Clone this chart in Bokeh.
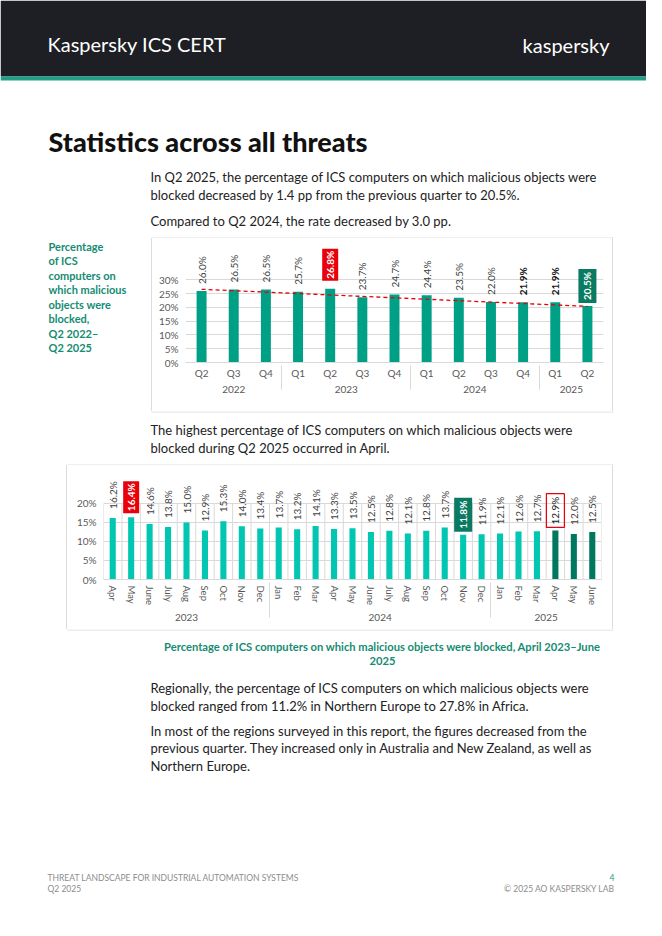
import math
from bokeh.plotting import figure
from bokeh.models import (Range1d, FactorRange, FixedTicker, PrintfTickFormatter,
                          ColumnDataSource, Spacer, Div)
from bokeh.layouts import column, row
from bokeh.core.properties import value
from bokeh.embed import file_html
from bokeh.resources import INLINE

FONT = "Lato"

# ---------------- data: chart 1 (quarterly) ----------------
q_years = ["2022", "2022", "2022", "2023", "2023", "2023", "2023",
           "2024", "2024", "2024", "2024", "2025", "2025"]
q_quarters = ["Q2", "Q3", "Q4", "Q1", "Q2", "Q3", "Q4",
              "Q1", "Q2", "Q3", "Q4", "Q1", "Q2"]
q_values = [26.0, 26.5, 26.5, 25.7, 26.8, 23.7, 24.7, 24.4, 23.5, 22.0, 21.9, 21.9, 20.5]
q_trend = [26.6, 20.4]          # dashed trend line, read at first and last quarter
q_y_ticks = [0, 5, 10, 15, 20, 25, 30]

# ---------------- data: chart 2 (monthly) ----------------
m_years = ["2023"] * 9 + ["2024"] * 12 + ["2025"] * 6
m_months = ["Apr", "May", "June", "July", "Aug", "Sep", "Oct", "Nov", "Dec",
            "Jan", "Feb", "Mar", "Apr", "May", "June", "July", "Aug", "Sep", "Oct", "Nov", "Dec",
            "Jan", "Feb", "Mar", "Apr", "May", "June"]
m_values = [16.2, 16.4, 14.6, 13.8, 15.0, 12.9, 15.3, 14.0, 13.4,
            13.7, 13.2, 14.1, 13.3, 13.5, 12.5, 12.8, 12.1, 12.8, 13.7, 11.8, 11.9,
            12.1, 12.6, 12.7, 12.9, 12.0, 12.5]
m_y_ticks = [0, 5, 10, 15, 20]

# highlighted labels
q_highlight = {("2023", "Q2"): "red", ("2025", "Q2"): "green",
               ("2024", "Q4"): "bold", ("2025", "Q1"): "bold"}
m_highlight = {("2023", "May"): "red", ("2024", "Nov"): "green", ("2025", "Apr"): "outline"}
m_dark = [("2025", "Apr"), ("2025", "May"), ("2025", "June")]

# ---------------- colours ----------------
DARK_HDR = "#1D1F24"
KGREEN = "#1EA186"
BAR1 = "#00A086"
BAR2 = "#00C6B2"
BAR2_DARK = "#00775F"
RED = "#E8000B"
BOXGREEN = "#0A7A63"
GRID = "#D9D9D9"
BOXLINE = "#DCDCDC"
AXTXT = "#595959"
TXT = "#222222"
CAPGREEN = "#158C73"


def page_fig(y0, y1, x0=0, x1=646, **kw):
    p = figure(width=x1 - x0, height=y1 - y0, x_range=Range1d(x0, x1), y_range=Range1d(y1, y0),
               x_axis_type=None, y_axis_type=None, toolbar_location=None,
               output_backend="svg", min_border=0, outline_line_color=None, **kw)
    return p


def put_text(p, x, y, lines, dy, size, color, style="normal", align="left", font=FONT):
    p.text(x=[x] * len(lines), y=[y + i * dy for i in range(len(lines))], text=lines,
           text_font=value(font), text_font_size=size, text_color=color,
           text_font_style=style, text_align=align, text_baseline="middle")


def hline(p, x0, x1, y):
    p.segment(x0=[x0], x1=[x1], y0=[y], y1=[y], color=BOXLINE, line_width=1)


def vline(h):
    return Div(text='<div style="width:1px;height:%dpx;background:%s"></div>' % (h, BOXLINE),
               width=1, height=h, margin=0)


# ---------------- top section ----------------
top = page_fig(0, 238)
top.quad(left=[0], right=[646], top=[0], bottom=[76], color=DARK_HDR, line_color=None)
top.quad(left=[0], right=[646], top=[76], bottom=[80], color=KGREEN, line_color=None)
put_text(top, 47, 43, ["Kaspersky ICS CERT"], 0, "20px", "white")
put_text(top, 609, 44, ["kaspersky"], 0, "20px", "white", align="right")
put_text(top, 48, 141, ["Statistics across all threats"], 0, "27px", "#111111", style="bold",
         font="Lato Black, Lato")
put_text(top, 150, 176, ["In Q2 2025, the percentage of ICS computers on which malicious objects were",
                         "blocked decreased by 1.4 pp from the previous quarter to 20.5%."], 18, "13px", TXT)
put_text(top, 150, 220, ["Compared to Q2 2024, the rate decreased by 3.0 pp."], 0, "13px", TXT)
hline(top, 151, 613, 237.5)

# ---------------- left caption of chart 1 (frame aligned with chart 1 frame) ----------------
cap = figure(width=151, height=173, x_range=Range1d(0, 151), y_range=Range1d(362, 242),
             x_axis_type=None, y_axis_type=None, toolbar_location=None, output_backend="svg",
             min_border_left=0, min_border_right=0, min_border_top=4, min_border_bottom=49,
             outline_line_color=None)
put_text(cap, 48, 246, ["Percentage", "of ICS", "computers on", "which malicious",
                        "objects were", "blocked,", "Q2 2022\u2013", "Q2 2025"],
         14.45, "11px", CAPGREEN, style="bold")


def style_axes(p, yticks):
    p.yaxis.ticker = FixedTicker(ticks=yticks)
    p.yaxis.formatter = PrintfTickFormatter(format="%d%%")
    p.yaxis.axis_line_color = None
    p.yaxis.major_tick_line_color = None
    p.yaxis.minor_tick_line_color = None
    p.yaxis.major_tick_out = 0
    p.yaxis.major_tick_in = 0
    p.yaxis.major_label_standoff = 7
    p.yaxis.major_label_text_font = FONT
    p.yaxis.major_label_text_font_size = "10px"
    p.yaxis.major_label_text_color = AXTXT
    p.ygrid.ticker = FixedTicker(ticks=yticks)
    p.ygrid.grid_line_color = GRID
    p.xgrid.visible = False
    p.xaxis.axis_line_color = GRID
    p.xaxis.major_tick_line_color = None
    p.xaxis.major_tick_out = 0
    p.xaxis.major_tick_in = 0
    p.xaxis.major_label_text_font = FONT
    p.xaxis.major_label_text_color = AXTXT
    p.xaxis.group_text_font = FONT
    p.xaxis.group_text_font_style = "normal"
    p.xaxis.group_text_color = AXTXT
    p.xaxis.group_text_font_size = "10px"
    p.xaxis.separator_line_color = GRID
    p.xaxis.separator_line_width = 1


LABEL_CFG = {
    "normal": dict(text_color="#404040", text_font_style="normal"),
    "bold": dict(text_color="#111111", text_font_style="bold"),
    "red": dict(text_color="white", text_font_style="bold", background_fill_color=RED, padding=2),
    "green": dict(text_color="white", text_font_style="bold", background_fill_color=BOXGREEN, padding=3),
    "outline": dict(text_color="#111111", text_font_style="normal", border_line_color=RED,
                    border_line_width=1.2, padding=3),
}


def add_labels(p, factors, values, highlight, offsets, size):
    groups = {k: [] for k in LABEL_CFG}
    for f, v in zip(factors, values):
        groups[highlight.get(f, "normal")].append((f, v))
    for k, items in groups.items():
        if not items:
            continue
        src = ColumnDataSource(dict(x=[i[0] for i in items], y=[i[1] for i in items],
                                    t=["%.1f%%" % i[1] for i in items]))
        p.text(x="x", y="y", text="t", source=src, angle=math.pi / 2, text_align="left",
               text_baseline="middle", y_offset=-offsets.get(k, offsets["normal"]),
               text_font=value(FONT), text_font_size=size, **LABEL_CFG[k])


# ---------------- chart 1 ----------------
q_factors = list(zip(q_years, q_quarters))
c1 = figure(width=460, height=173,
            x_range=FactorRange(*q_factors, range_padding=0, group_padding=0, factor_padding=0),
            y_range=Range1d(0, 43.6), toolbar_location=None, output_backend="svg",
            min_border_left=33, min_border_right=9, min_border_top=4, min_border_bottom=49,
            outline_line_color=None)
style_axes(c1, q_y_ticks)
c1.xaxis.major_label_text_font_size = "10px"
c1.xaxis.major_label_standoff = 4
c1.vbar(x=q_factors, top=q_values, width=0.31, color=BAR1, line_color=None)
c1.line(x=[q_factors[0], q_factors[-1]], y=q_trend, color=RED, line_width=1.3, line_dash="4 3")
add_labels(c1, q_factors, q_values, q_highlight, {"normal": 7, "red": 8, "green": 3}, "10px")

# ---------------- middle text ----------------
mid = page_fig(411, 465)
put_text(mid, 150, 429, ["The highest percentage of ICS computers on which malicious objects were",
                         "blocked during Q2 2025 occurred in April."], 18.4, "13px", TXT)
hline(mid, 151, 613, 411.5)
hline(mid, 67, 613, 464.5)

# ---------------- chart 2 ----------------
m_factors = list(zip(m_years, m_months))
c2 = figure(width=545, height=164,
            x_range=FactorRange(*m_factors, range_padding=0, group_padding=0, factor_padding=0),
            y_range=Range1d(0, 29.2), toolbar_location=None, output_backend="svg",
            min_border_left=36, min_border_right=11, min_border_top=3, min_border_bottom=50,
            outline_line_color=None)
style_axes(c2, m_y_ticks)
c2.xaxis.major_label_orientation = "vertical"
c2.xaxis.major_label_text_font_size = "9.5px"
c2.xaxis.major_label_standoff = 6
# vertical category separators inside the plot
bx = [f + (-0.5,) for f in m_factors] + [m_factors[-1] + (0.5,)]
c2.segment(x0=bx, x1=bx, y0=[0] * len(bx), y1=[m_y_ticks[-1]] * len(bx), color=GRID, line_width=1)
m_colors = [BAR2_DARK if f in m_dark else BAR2 for f in m_factors]
c2.vbar(x=m_factors, top=m_values, width=0.33, color=m_colors, line_color=None)
add_labels(c2, m_factors, m_values, m_highlight, {"normal": 9, "red": 4, "green": 3, "outline": 3}, "10px")

# ---------------- bottom section ----------------
bot = page_fig(629, 920)
hline(bot, 67, 613, 629.5)
put_text(bot, 382, 645.5, ["Percentage of ICS computers on which malicious objects were blocked, April 2023\u2013June",
                           "2025"], 14.5, "11.2px", CAPGREEN, style="bold", align="center")
put_text(bot, 150, 687, ["Regionally, the percentage of ICS computers on which malicious objects were",
                         "blocked ranged from 11.2% in Northern Europe to 27.8% in Africa."], 18.3, "13px", TXT)
put_text(bot, 150, 730, ["In most of the regions surveyed in this report, the figures decreased from the",
                         "previous quarter. They increased only in Australia and New Zealand, as well as",
                         "Northern Europe."], 17.8, "13px", TXT)
put_text(bot, 47, 877, ["THREAT LANDSCAPE FOR INDUSTRIAL AUTOMATION SYSTEMS", "Q2 2025"], 11.5, "8.5px", "#8C8C8C")
put_text(bot, 614, 877, ["4"], 0, "8.5px", KGREEN, align="right")
put_text(bot, 614, 888.5, ["\u00a9 2025 AO KASPERSKY LAB"], 0, "8.5px", "#8C8C8C", align="right")

layout = column(top,
                row(cap, vline(173), c1, vline(173), Spacer(width=33, height=173)),
                mid,
                row(Spacer(width=66, height=164), vline(164), c2, vline(164), Spacer(width=33, height=164)),
                bot)

open("out.html", "w").write(file_html(layout, INLINE))
